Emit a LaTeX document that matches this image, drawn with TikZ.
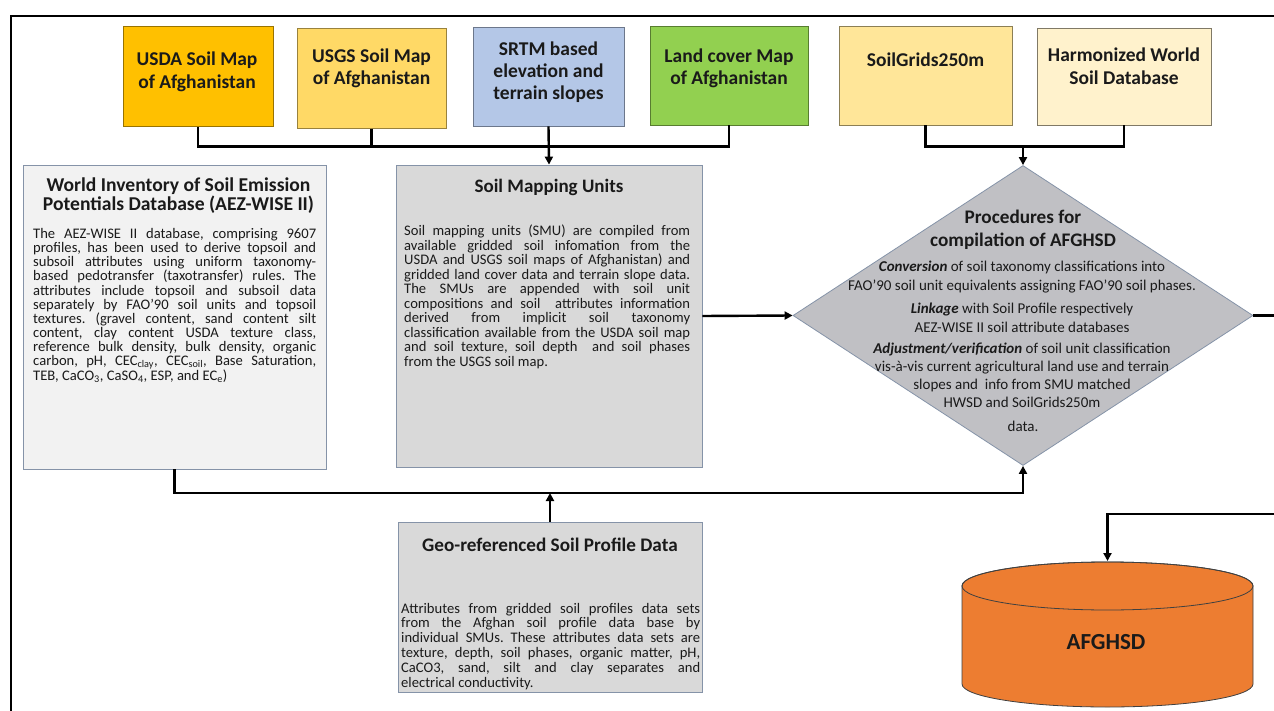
\documentclass[tikz,border=0pt]{standalone}
\usepackage{fontspec}
\setmainfont{Carlito}
\usetikzlibrary{arrows.meta,shapes.geometric}
\definecolor{txt}{HTML}{1A1A1A}
\definecolor{cUSDA}{HTML}{FFC000}
\definecolor{cUSGS}{HTML}{FFD966}
\definecolor{cSRTM}{HTML}{B4C7E7}
\definecolor{cLand}{HTML}{92D050}
\definecolor{cGrids}{HTML}{FFE699}
\definecolor{cHWSD}{HTML}{FFF2CC}
\definecolor{cWise}{HTML}{F2F2F2}
\definecolor{cSmu}{HTML}{D9D9D9}
\definecolor{cProc}{HTML}{C0C0C4}
\definecolor{cDB}{HTML}{ED7D31}
\definecolor{bord}{HTML}{8593A8}
\begin{document}
\begin{tikzpicture}[x=1pt,y=1pt,
  srcbox/.style={rectangle, inner sep=0pt, line width=0.8pt},
  lbl/.style={font=\fontsize{19.5}{22.7}\selectfont\bfseries, align=center, text=txt, inner sep=0pt},
  ttl/.style={font=\fontsize{19}{19.5}\selectfont\bfseries, align=center, text=txt, inner sep=0pt},
  body/.style={align=justify, text=txt, inner sep=0pt, anchor=north west},
  dtxt/.style={font=\fontsize{15}{19}\selectfont, align=center, text=txt, inner sep=0pt},
  conn/.style={line width=2.4pt, draw=black},
  arr/.style={conn, -{Triangle[length=8pt,width=8pt]}}]
\useasboundingbox (0,0) rectangle (1274,-711);
\fill[white] (0,0) rectangle (1274,-711);
% frame
\draw[line width=2pt] (10.5,-730) -- (10.5,-16.5) -- (1300,-16.5);

% source boxes
\node[srcbox, fill=cUSDA, draw=cUSDA!60!black, minimum width=150pt, minimum height=100pt] (usda) at (198,-76.7) {};
\node[lbl] (usdaT) at (197,-72) {USDA Soil Map\\of Afghanistan};
\node[srcbox, fill=cUSGS, draw=cUSGS!60!black, minimum width=149pt, minimum height=100pt] (usgs) at (371.5,-78.3) {};
\node[lbl] (usgsT) at (371.5,-68.3) {USGS Soil Map\\of Afghanistan};
\node[srcbox, fill=cSRTM, draw=cSRTM!60!black, minimum width=151pt, minimum height=98.7pt] (srtm) at (548.5,-76.7) {};
\node[lbl, font=\fontsize{19.5}{21.7}\selectfont\bfseries] (srtmT) at (548.5,-72.3) {SRTM based\\elevation and\\terrain slopes};
\node[srcbox, fill=cLand, draw=cLand!60!black, minimum width=158pt, minimum height=98.3pt] (land) at (729,-75.8) {};
\node[lbl] (landT) at (729,-68.3) {Land cover Map\\of Afghanistan};
\node[srcbox, fill=cGrids, draw=cGrids!55!black, minimum width=173pt, minimum height=98.3pt] (grids) at (925.5,-75.8) {};
\node[lbl] (gridsT) at (925.5,-59.3) {SoilGrids250m};
\node[srcbox, fill=cHWSD, draw=cHWSD!50!black, minimum width=174pt, minimum height=96.7pt] (hwsd) at (1124,-76.7) {};
\node[lbl] (hwsdT) at (1124,-66) {Harmonized World\\Soil Database};

% WISE box
\node[srcbox, fill=cWise, draw=bord, minimum width=303pt, minimum height=304pt] (wise) at (174.5,-317) {};
\node[ttl, font=\fontsize{19.6}{19.5}\selectfont\bfseries] (wiseT) at (178.5,-195.5) {World Inventory of Soil Emission\\Potentials Database (AEZ-WISE II)};
\node[body, text width=283pt, font=\fontsize{14.6}{14.05}\selectfont] (wiseB) at (33,-228.5) {\hyphenpenalty=10000\tolerance=10000\frenchspacing
The AEZ-WISE II database, comprising 9607\linebreak
profiles, has been used to derive topsoil and\linebreak
subsoil attributes using uniform taxonomy-\linebreak
based pedotransfer (taxotransfer) rules. The\linebreak
attributes include topsoil and subsoil data\linebreak
separately by FAO’90 soil units and topsoil\linebreak
textures. (gravel content, sand content silt\linebreak
content, clay content USDA texture class,\linebreak
reference bulk density, bulk density, organic\linebreak
carbon, pH, CEC\textsubscript{clay}, CEC\textsubscript{soil}, Base Saturation,\linebreak
TEB, CaCO\textsubscript{3}, CaSO\textsubscript{4}, ESP, and EC\textsubscript{e})};

% SMU box
\node[srcbox, fill=cSmu, draw=bord, minimum width=306pt, minimum height=302pt] (smu) at (549,-316) {};
\node[ttl] (smuT) at (549,-187) {Soil Mapping Units};
\node[body, text width=286pt, font=\fontsize{14.6}{14.55}\selectfont] (smuB) at (404,-224.7) {\hyphenpenalty=10000\tolerance=10000\frenchspacing
Soil mapping units (SMU) are compiled from\linebreak
available gridded soil infomation from the\linebreak
USDA and USGS soil maps of Afghanistan) and\linebreak
gridded land cover data and terrain slope data.\linebreak
The SMUs are appended with soil unit\linebreak
compositions and soil\ \ attributes information\linebreak
derived from implicit soil taxonomy\linebreak
classification available from the USDA soil map\linebreak
and soil texture, soil depth\ \ and soil phases\linebreak
from the USGS soil map.};

% Geo box
\node[srcbox, fill=cSmu, draw=bord, minimum width=304pt, minimum height=170pt] (geo) at (550,-607) {};
\node[ttl, font=\fontsize{19.2}{19.5}\selectfont\bfseries] (geoT) at (550,-545) {Geo-referenced Soil Profile Data};
\node[body, text width=299pt, font=\fontsize{14.6}{14.8}\selectfont] (geoB) at (401,-602.7) {\hyphenpenalty=10000\tolerance=10000\frenchspacing
Attributes from gridded soil profiles data sets\linebreak
from the Afghan soil profile data base by\linebreak
individual SMUs. These attributes data sets are\linebreak
texture, depth, soil phases, organic matter, pH,\linebreak
CaCO3, sand, silt and clay separates and\linebreak
electrical conductivity.};

% procedures diamond
\node[diamond, fill=cProc, draw=bord, line width=0.8pt, minimum width=460pt, minimum height=300pt, inner sep=0pt] (proc) at (1023,-315.5) {};
\node[ttl, font=\fontsize{19.2}{23}\selectfont\bfseries] (procT) at (1023,-229.5) {Procedures for\\compilation of AFGHSD};
\node[dtxt] (procA) at (1022,-277.5) {\textbf{\textit{Conversion}} of soil taxonomy classifications into\\FAO’90 soil unit equivalents assigning FAO’90 soil phases.};
\node[dtxt] (procB) at (1022,-317.5) {\textbf{\textit{Linkage}} with Soil Profile respectively\\AEZ-WISE II soil attribute databases};
\node[dtxt, font=\fontsize{15}{18}\selectfont] (procC) at (1022,-375.25) {\textbf{\textit{Adjustment/verification}} of soil unit classification\\vis-à-vis current agricultural land use and terrain\\slopes and\ \ info from SMU matched\\HWSD and SoilGrids250m};
\node[dtxt] (procD) at (1023,-426) {data.};

% AFGHSD cylinder
\filldraw[fill=cDB, draw=black!75, line width=0.8pt] (962,-586) -- (962,-684)
  arc[start angle=180, end angle=360, x radius=145.5pt, y radius=23pt]
  -- (1253,-586)
  arc[start angle=0, end angle=180, x radius=145.5pt, y radius=24pt] -- cycle;
\draw[draw=black!75, line width=0.8pt] (1107.5,-586) ellipse [x radius=145.5pt, y radius=24pt];
\node[font=\fontsize{23}{26}\selectfont\bfseries, text=txt] (db) at (1106,-642) {AFGHSD};
\coordinate (dbtop) at (1107.5,-561);

% connectors
\coordinate (jL) at (371.5,-146.5);
\coordinate (jR) at (729,-146.5);
\coordinate (jG) at (1023,-146.5);
\coordinate (jB) at (550,-493);
\coordinate (jD) at (1107.5,-514);
\draw[conn] (usda.south) |- (jL) -- (jR) -- (land.south);
\draw[conn] (usgs.south) -- (jL);
\draw[arr] (srtm.south) -- (smu.north);
\draw[conn] (grids.south) |- (jG) -| (hwsd.south);
\draw[arr] (jG) -- (proc.north);
\draw[arr] (smu.east) -- (proc.west);
\draw[arr] (wise.south) |- (jB) -| (proc.south);
\draw[arr] (geo.north) -- (jB);
\draw[arr] (proc.east) -- (1300,-315.5) |- (jD) -- (dbtop);
\end{tikzpicture}
\end{document}
